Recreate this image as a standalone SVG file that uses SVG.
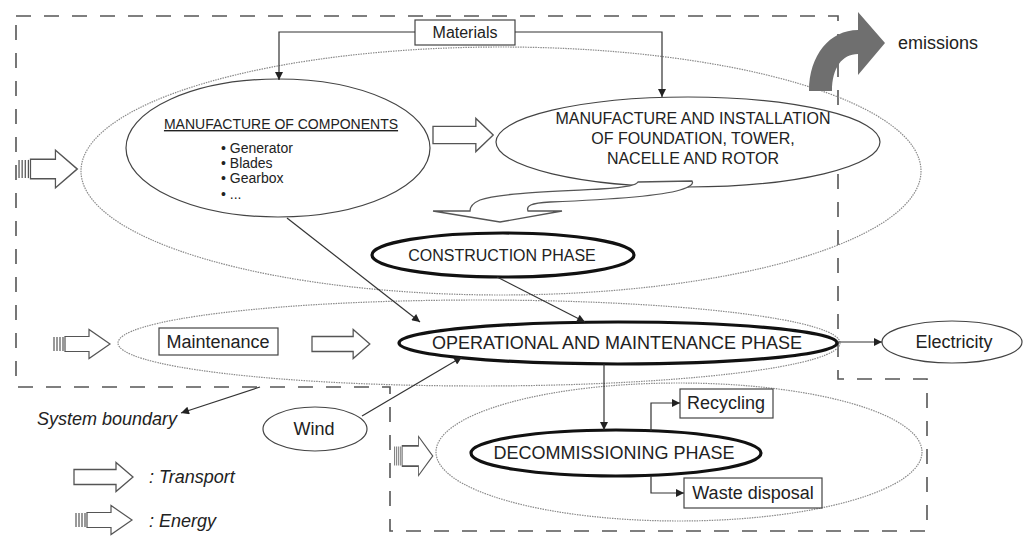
<svg xmlns="http://www.w3.org/2000/svg" width="1025" height="540" viewBox="0 0 1025 540">
<style>
text{font-family:"Liberation Sans",Arial,sans-serif;fill:#222;}
.t18{font-size:18px;}
.t16{font-size:16px;}
.t14{font-size:14px;}
.it{font-style:italic;}
.dot{fill:none;stroke:#8a8a8a;stroke-width:1.2;stroke-dasharray:1.5 1;}
.thin{fill:#fff;stroke:#444;stroke-width:1.2;}
.thick{fill:#fff;stroke:#111;stroke-width:3.2;}
.box{fill:#fff;stroke:#444;stroke-width:1.2;}
.con{fill:none;stroke:#333;stroke-width:1.2;}
.bnd{fill:none;stroke:#555;stroke-width:1.6;stroke-dasharray:15 13;}
.blk{fill:#fff;stroke:#555;stroke-width:1.3;}
.str{stroke:#555;stroke-width:1.2;}
</style>
<defs>
<marker id="ah" viewBox="0 0 10 10" refX="10" refY="5" markerWidth="10" markerHeight="8" orient="auto" markerUnits="userSpaceOnUse">
<path d="M0,0 L10,5 L0,10 Z" fill="#222"/>
</marker>
<path id="tr" d="M0,-7.5 H42 V-14.5 L59,0 L42,14.5 V7.5 H0 Z"/>
<g id="en">
<path d="M12,-7.5 H36 V-14.5 L57,0 L36,14.5 V7.5 H12 Z"/>
<line x1="1" y1="-7" x2="1" y2="7"/>
<line x1="4" y1="-7" x2="4" y2="7"/>
<line x1="7" y1="-7" x2="7" y2="7"/>
<line x1="10" y1="-7" x2="10" y2="7"/>
</g>
</defs>
<rect width="1025" height="540" fill="#fff"/>

<g id="system-boundary">
<path class="bnd" d="M16,16 H838 V379 H927 V531 H390 V387 H16 Z"/>
</g>

<g id="construction-region">
<ellipse class="dot" cx="501" cy="171" rx="420" ry="124"/>
</g>
<g id="operation-region">
<ellipse class="dot" cx="479" cy="343" rx="361" ry="43"/>
</g>
<g id="decommission-region">
<ellipse class="dot" cx="679" cy="452" rx="243" ry="69"/>
</g>

<g id="emissions">
<path d="M809,91 C809,55 830,30 858,30 L858,12 L885,43 L858,75 L858,54 C842,54 832,68 832,91 Z" fill="#6f6f6f"/>
<text class="t18" x="898" y="49">emissions</text>
</g>

<g id="materials">
<rect class="box" x="415" y="20" width="100" height="25"/>
<text class="t16" x="465" y="38" text-anchor="middle">Materials</text>
</g>

<g id="manufacture-components">
<ellipse class="thin" cx="278" cy="148" rx="152" ry="69"/>
<text class="t14" x="281" y="129" text-anchor="middle" text-decoration="underline">MANUFACTURE OF COMPONENTS</text>
<text class="t14" x="221" y="153">• Generator</text>
<text class="t14" x="221" y="168">• Blades</text>
<text class="t14" x="221" y="183">• Gearbox</text>
<text class="t14" x="221" y="199">• ...</text>
</g>

<g id="manufacture-installation">
<ellipse class="thin" cx="688" cy="142" rx="192" ry="45"/>
<text class="t16" x="693" y="124" text-anchor="middle">MANUFACTURE AND INSTALLATION</text>
<text class="t16" x="693" y="144" text-anchor="middle">OF FOUNDATION, TOWER,</text>
<text class="t16" x="693" y="164" text-anchor="middle">NACELLE AND ROTOR</text>
</g>

<g id="construction-phase">
<ellipse class="thick" cx="503" cy="255" rx="131" ry="22"/>
<text class="t16" x="502" y="261" text-anchor="middle">CONSTRUCTION PHASE</text>
</g>

<g id="maintenance">
<rect class="box" x="159" y="328" width="119" height="27"/>
<text class="t18" x="218" y="348" text-anchor="middle">Maintenance</text>
</g>

<g id="operational-phase">
<ellipse class="thick" cx="618" cy="343" rx="219" ry="21"/>
<text class="t18" x="617" y="349" text-anchor="middle">OPERATIONAL AND MAINTENANCE PHASE</text>
</g>

<g id="electricity">
<ellipse class="thin" cx="952" cy="342" rx="70" ry="21"/>
<text class="t18" x="954" y="348" text-anchor="middle">Electricity</text>
</g>

<g id="wind">
<ellipse class="thin" cx="315" cy="429" rx="52" ry="22"/>
<text class="t18" x="314" y="435" text-anchor="middle">Wind</text>
</g>

<g id="decommissioning-phase">
<ellipse class="thick" cx="616" cy="453" rx="145" ry="23"/>
<text class="t18" x="614" y="459" text-anchor="middle">DECOMMISSIONING PHASE</text>
</g>

<g id="recycling">
<rect class="box" x="680" y="389" width="93" height="29"/>
<text class="t18" x="726" y="409" text-anchor="middle">Recycling</text>
</g>

<g id="waste-disposal">
<rect class="box" x="684" y="478" width="138" height="30"/>
<text class="t18" x="753" y="499" text-anchor="middle">Waste disposal</text>
</g>

<g id="system-boundary-label">
<text class="t18 it" x="37" y="425">System boundary</text>
</g>

<g id="legend">
<use href="#tr" class="blk" transform="translate(74,477)"/>
<text class="t18 it" x="149" y="483">: Transport</text>
<use href="#en" class="blk str" transform="translate(75,520)"/>
<text class="t18 it" x="149" y="527">: Energy</text>
</g>

<g id="flow-arrows">
<use href="#en" class="blk str" transform="translate(18,169) scale(1.04,1.3)"/>
<use href="#tr" class="blk" transform="translate(433,135) scale(1.02,1.15)"/>
<path class="blk" d="M692,181 L638,182 C636,185 630,187 600,189 C540,192 495,194 480,200 C473,203 470,207 470,211 L433,211 L500,222 L562,211 L528,211 C526,206 530,203 550,202 C600,200 660,196 680,190 C690,187 694,184 692,181 Z"/>
<use href="#en" class="blk str" transform="translate(53,344)"/>
<use href="#tr" class="blk" transform="translate(312,344) scale(0.98,1)"/>
<use href="#en" class="blk str" transform="translate(394,456) scale(0.68,1.35)"/>
</g>

<g id="connectors">
<path class="con" d="M415,32 H279 V80" marker-end="url(#ah)"/>
<path class="con" d="M515,32 H662 V97" marker-end="url(#ah)"/>
<line class="con" x1="287" y1="218" x2="420" y2="322" marker-end="url(#ah)"/>
<line class="con" x1="497" y1="277" x2="585" y2="322" marker-end="url(#ah)"/>
<line class="con" x1="837" y1="342" x2="882" y2="342" marker-end="url(#ah)"/>
<line class="con" x1="362" y1="416" x2="462" y2="357" marker-end="url(#ah)"/>
<line class="con" x1="604" y1="364" x2="604" y2="430" marker-end="url(#ah)"/>
<path class="con" d="M651,431 V403 H680" marker-end="url(#ah)"/>
<path class="con" d="M651,476 V493 H684" marker-end="url(#ah)"/>
<line class="con" x1="260" y1="387" x2="181" y2="413" marker-end="url(#ah)"/>
</g>
</svg>
